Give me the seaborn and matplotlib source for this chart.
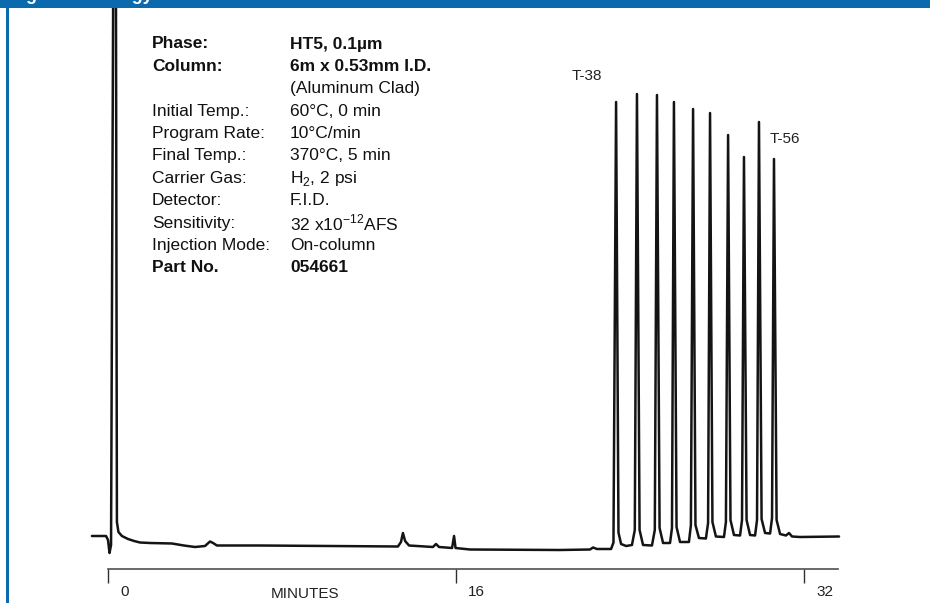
import matplotlib
matplotlib.use("Agg")
import matplotlib.pyplot as plt
import matplotlib.patches as mpatches
from matplotlib.transforms import ScaledTranslation
import seaborn as sns
import pandas as pd

# ---------------- data ----------------
time_min = [-0.74, -0.09, 0.00, 0.07, 0.14, 0.25, 0.36, 0.41, 0.48, 0.64, 0.92, 1.20,
            1.47, 1.93, 2.94, 3.49, 4.00, 4.46, 4.69, 4.83, 5.01, 6.99, 10.21, 13.33,
            13.47, 13.56, 13.66, 13.84, 14.94, 15.08, 15.22, 15.82, 15.91, 15.98, 16.64,
            20.78, 22.16, 22.30, 22.48, 23.13,
            23.24, 23.36, 23.47, 23.59, 23.82, 24.09,
            24.22, 24.32, 24.44, 24.60, 25.01,
            25.14, 25.24, 25.36, 25.52, 25.84,
            25.93, 26.02, 26.14, 26.30, 26.71,
            26.80, 26.90, 27.01, 27.17, 27.49,
            27.59, 27.68, 27.79, 27.95, 28.32,
            28.41, 28.51, 28.62, 28.78, 29.06,
            29.15, 29.24, 29.36, 29.52, 29.75,
            29.84, 29.93, 30.05, 30.21, 30.44,
            30.53, 30.62, 30.74, 30.90, 31.17, 31.31, 31.45, 31.82, 33.61]
signal = [2.8, 2.8, 2.0, -0.6, 1.0, 125.0, 125.0, 5.6, 3.6, 2.8, 2.2, 1.8,
          1.5, 1.4, 1.3, 0.9, 0.6, 0.8, 1.7, 1.4, 0.9, 0.9, 0.8, 0.7,
          1.6, 3.4, 1.8, 0.9, 0.6, 1.2, 0.6, 0.4, 2.8, 0.4, 0.1,
          0.0, 0.1, 0.5, 0.2, 0.2,
          1.5, 89.6, 3.5, 1.2, 0.8, 1.0,
          4.0, 91.2, 4.0, 1.0, 0.9,
          4.0, 91.0, 4.4, 1.4, 1.4,
          4.4, 89.6, 4.6, 1.6, 1.6,
          5.0, 88.2, 5.0, 2.4, 2.3,
          5.4, 87.4, 5.6, 2.7, 2.6,
          5.6, 83.0, 6.0, 3.0, 2.9,
          6.0, 78.6, 6.0, 3.0, 2.9,
          6.0, 85.6, 6.2, 3.4, 3.3,
          6.4, 78.2, 6.0, 3.2, 2.9, 3.4, 2.7, 2.6, 2.7]

tick_values = [0, 16, 32]
tick_labels = ["0", "16", "32"]
axis_label = "MINUTES"

peak_labels = ["T-38", "T-56"]
peak_label_x = [21.33, 30.44]
peak_label_y = [94.8, 82.2]

info_keys = ["Phase:", "Column:", "", "Initial Temp.:", "Program Rate:", "Final Temp.:",
             "Carrier Gas:", "Detector:", "Sensitivity:", "Injection Mode:", "Part No."]
info_vals = ["HT5, 0.1µm", "6m x 0.53mm I.D.", "(Aluminum Clad)", "60°C, 0 min",
             "10°C/min", "370°C, 5 min", r"H$_{\mathregular{2}}$, 2 psi", "F.I.D.",
             r"32 x10$^{\mathregular{-12}}$AFS", "On-column", "054661"]
info_bold = [True, True, False, False, False, False, False, False, False, False, True]

header_text = "High Technology"

# ---------------- style ----------------
sns.set_theme(style="white")
plt.rcParams["font.family"] = ["Liberation Sans", "DejaVu Sans"]
plt.rcParams["mathtext.fontset"] = "custom"
plt.rcParams["mathtext.rm"] = "Liberation Sans"

BLUE = "#0a6aad"
W, H = 930, 603
fig = plt.figure(figsize=(W / 100, H / 100), dpi=100)
fig.patch.set_facecolor("white")

# axes geometry (pixel based layout)
px_per_min = 21.75
x0_px = 108
xmin, xmax = -1.0, 34.5
left_px = x0_px + xmin * px_per_min
right_px = x0_px + xmax * px_per_min
spine_y_px = 569
ax = fig.add_axes([left_px / W, 1 - spine_y_px / H, (right_px - left_px) / W, spine_y_px / H])
ax.set_facecolor("none")

df = pd.DataFrame({"time": time_min, "signal": signal})
sns.lineplot(data=df, x="time", y="signal", sort=False, estimator=None, ax=ax,
             color="#141414", linewidth=1.8, solid_joinstyle="round", solid_capstyle="round")

ax.set_xlim(xmin, xmax)
ax.set_ylim(-3.8, 110)
ax.set_xlabel("")
ax.set_ylabel("")
ax.set_yticks([])
for s in ["left", "right", "top"]:
    ax.spines[s].set_visible(False)
ax.spines["bottom"].set_color("#505050")
ax.spines["bottom"].set_linewidth(1.2)
ax.spines["bottom"].set_bounds(0, 33.56)

ax.set_xticks(tick_values)
ax.set_xticklabels(tick_labels)
ax.tick_params(axis="x", direction="out", length=10, width=1.0, color="#303030",
               labelsize=11, labelcolor="#222222", pad=1.5, bottom=True)
for lab in ax.get_xticklabels():
    lab.set_ha("left")
    lab.set_transform(lab.get_transform() + ScaledTranslation(12 / 100, 0, fig.dpi_scale_trans))

ax.annotate(axis_label, xy=(9.06, 0), xycoords=("data", "axes fraction"),
            xytext=(0, -25), textcoords="offset pixels", ha="center", va="center",
            fontsize=11, color="#222222")

for lbl, lx, ly in zip(peak_labels, peak_label_x, peak_label_y):
    ax.text(lx, ly, lbl, ha="left", va="center", fontsize=11, color="#222222")

# info block
y_start = 44
dy = 22.4
for i, (k, v, b) in enumerate(zip(info_keys, info_vals, info_bold)):
    yy = 1 - (y_start + i * dy) / H
    w = "bold" if b else "normal"
    fig.text(152 / W, yy, k, ha="left", va="center", fontsize=12.5, fontweight=w, color="#111111")
    fig.text(290 / W, yy, v, ha="left", va="center", fontsize=12.5, fontweight=w, color="#111111")

# blue frame
fig.add_artist(mpatches.Rectangle((0, 1 - 7.5 / H), 1, 7.5 / H, transform=fig.transFigure,
                                  facecolor=BLUE, edgecolor="none", zorder=5))
fig.add_artist(mpatches.Rectangle((5.5 / W, 0), 3.0 / W, 1, transform=fig.transFigure,
                                  facecolor=BLUE, edgecolor="none", zorder=5))
fig.text(8 / W, 1 + 0.0 / H, header_text, ha="left", va="baseline", fontsize=13,
         fontweight="bold", color="white", zorder=6)

fig.savefig("out.png", dpi=100)
